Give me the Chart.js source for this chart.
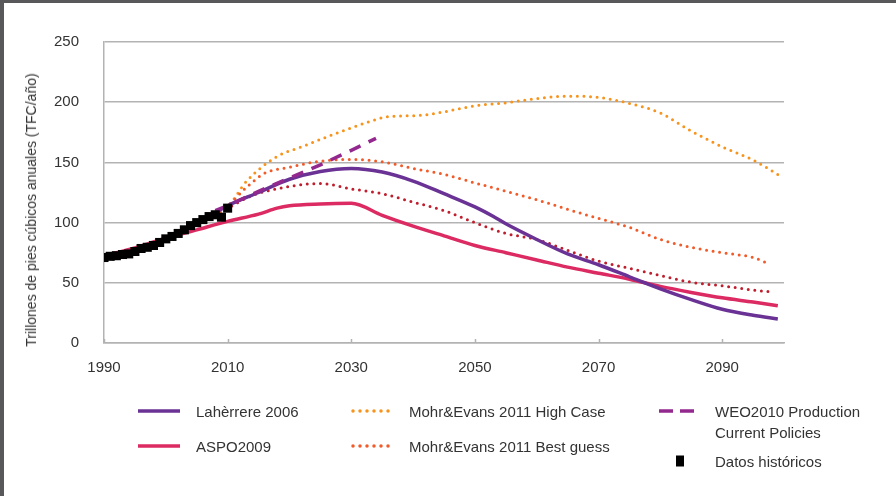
<!DOCTYPE html>
<html lang="es">
<head>
<meta charset="utf-8">
<title>Producción mundial de gas natural</title>
<script src="https://cdn.jsdelivr.net/npm/chart.js@4.4.1/dist/chart.umd.min.js"></script>
<style>
  html, body { margin: 0; padding: 0; background: #fff; }
  #wrap { position: relative; width: 896px; height: 496px; overflow: hidden;
          font-family: "Liberation Sans", Arial, sans-serif; color: #333; }
  #chart { position: absolute; left: 0; top: 0; }
  .frame-top { position: absolute; left: 0; top: 0; width: 896px; height: 3px; background: #58585a; }
  .frame-left { position: absolute; left: 0; top: 0; width: 4px; height: 496px; background: #58585a; }
  #ytitle { position: absolute; left: 31px; top: 210px; white-space: nowrap; font-size: 14px;
            transform: translate(-50%, -50%) rotate(-90deg); }
  .leg { position: absolute; white-space: nowrap; font-size: 15px; line-height: 20px;
         transform: translateY(-50%); }
</style>
</head>
<body>
<div id="wrap">
  <canvas id="chart" width="896" height="496"></canvas>
  <div id="ytitle">Trillones de pies cúbicos anuales (TFC/año)</div>
  <div class="frame-top"></div>
  <div class="frame-left"></div>
</div>
<script>
// Axis ticks
const xTickYears = [1990, 2010, 2030, 2050, 2070, 2090];
const yTickValues = [0, 50, 100, 150, 200, 250];

// Historical production (TFC / year)
const histYears = [1990, 1991, 1992, 1993, 1994, 1995, 1996, 1997, 1998, 1999, 2000,
                   2001, 2002, 2003, 2004, 2005, 2006, 2007, 2008, 2009, 2010];
const histValues = [71, 72, 72.5, 73.5, 74, 76, 78.5, 79.5, 81, 83.5, 86.5,
                    88.5, 91, 94, 97.5, 100, 102.5, 105, 106.5, 104.5, 112];

// Laherrère 2006
const lahYears = [1990, 1995, 2000, 2005, 2010, 2015, 2020, 2025, 2030, 2035, 2040, 2045,
                  2050, 2053, 2055, 2060, 2065, 2070, 2075, 2080, 2085, 2090, 2095, 2099];
const lahValues = [71, 76, 86, 99, 114, 125, 136, 142.5, 145, 142, 134.5, 124,
                   113, 105, 99, 86, 74, 65, 55, 45, 36, 28, 23, 20];

// ASPO 2009
const aspoYears = [1990, 1995, 2000, 2005, 2010, 2015, 2018, 2020, 2025, 2030, 2035, 2040,
                   2045, 2050, 2055, 2060, 2065, 2070, 2075, 2080, 2085, 2090, 2095, 2099];
const aspoValues = [72.5, 79, 87, 94, 101, 107, 112, 114, 115.5, 116, 106, 97,
                    89, 81, 75, 69, 63, 58, 53, 47, 42, 37.5, 34, 31];

// Mohr & Evans 2011 High Case
const highYears = [1990, 1995, 2000, 2005, 2010, 2013, 2018, 2022, 2027, 2033, 2036, 2041,
                   2045, 2050, 2055, 2060, 2065, 2070, 2075, 2080, 2085, 2090, 2095, 2099];
const highValues = [71, 77, 86, 98, 113, 134, 155, 163, 173, 184, 188, 189,
                    192, 197, 199.5, 203, 205, 204, 199, 191, 176, 163, 152, 140];

// Mohr & Evans 2011 Best guess
const bestYears = [1990, 1995, 2000, 2005, 2010, 2013, 2016, 2020, 2025, 2030, 2035, 2040,
                   2045, 2050, 2055, 2060, 2065, 2070, 2075, 2080, 2085, 2090, 2095, 2097];
const bestValues = [71, 77, 86, 98, 114, 129, 141, 146, 151, 152.5, 150.5, 145,
                    140, 133, 126, 119, 111, 103.5, 96, 86, 79.5, 75, 71, 67];

// Mohr & Evans 2011 Low Case
const lowYears = [1990, 1995, 2000, 2005, 2010, 2014, 2020, 2025, 2030, 2035, 2040, 2045,
                  2050, 2055, 2060, 2065, 2070, 2075, 2080, 2085, 2090, 2095, 2098];
const lowValues = [71, 77, 86, 98, 112, 122.5, 130, 132.5, 128, 124, 117, 110,
                   100, 91, 86, 77, 68, 62, 56, 50.5, 47.5, 44, 42.5];

// WEO2010, Current Policies scenario
const weoYears = [2008, 2010, 2015, 2020, 2025, 2030, 2034];
const weoValues = [110, 114, 126, 137, 148, 160, 170];

const toPoints = (xs, ys) => xs.map((x, i) => ({ x: x, y: ys[i] }));

const GRID = '#b3b3b3';
const TEXT = '#333333';
const FONT = '"Liberation Sans", Arial, sans-serif';

const solid = (label, xs, ys, color, order) => ({
  label, data: toPoints(xs, ys), borderColor: color, backgroundColor: color,
  borderWidth: 3.5, pointRadius: 0, cubicInterpolationMode: 'monotone', order
});
const dotted = (label, xs, ys, color, order) => ({
  label, data: toPoints(xs, ys), borderColor: color, backgroundColor: color,
  borderWidth: 3, borderDash: [0, 6.6], borderCapStyle: 'round',
  pointRadius: 0, cubicInterpolationMode: 'monotone', order
});

const datasets = [
  { label: 'Datos históricos', data: toPoints(histYears, histValues), showLine: false,
    pointStyle: 'rect', pointRadius: 6.4, pointBorderWidth: 0,
    backgroundColor: '#000', borderColor: '#000', order: 0 },
  solid('Lahèrrere 2006', lahYears, lahValues, '#6a3294', 3),
  solid('ASPO2009', aspoYears, aspoValues, '#dc2a62', 4),
  dotted('Mohr&Evans 2011 High Case', highYears, highValues, '#f7941d', 6),
  dotted('Mohr&Evans 2011 Best guess', bestYears, bestValues, '#f15a29', 5),
  dotted('Mohr&Evans 2011 Low Case', lowYears, lowValues, '#be1e2d', 7),
  { label: ['WEO2010 Production', 'Current Policies'], data: toPoints(weoYears, weoValues),
    borderColor: '#93288e', backgroundColor: '#93288e', borderWidth: 3.5,
    borderDash: [12, 9], pointRadius: 0, order: 1 }
];

// Legend: which dataset each entry shows, and where it sits below the plot
const legendLayout = [
  { ds: 1, x1: 138, x2: 180, y: 411, tx: 196 },
  { ds: 2, x1: 138, x2: 180, y: 446, tx: 196 },
  { ds: 3, x1: 353, x2: 389, y: 411, tx: 409, dash: [0, 7] },
  { ds: 4, x1: 353, x2: 389, y: 446, tx: 409, dash: [0, 7] },
  { ds: 6, x1: 659, x2: 694, y: 411, tx: 715, dash: [14, 7], lineGap: 21 },
  { ds: 0, x1: 676, x2: 684, y: 461, tx: 715, square: true }
];

const legendSamples = {
  id: 'legendSamples',
  afterDraw(chart) {
    const ctx = chart.ctx;
    legendLayout.forEach(item => {
      const ds = chart.data.datasets[item.ds];
      ctx.save();
      if (item.square) {
        ctx.fillStyle = ds.backgroundColor;
        ctx.fillRect(item.x1, item.y - 5.5, item.x2 - item.x1, 11);
      } else {
        ctx.strokeStyle = ds.borderColor;
        ctx.lineWidth = 3.5;
        ctx.lineCap = ds.borderCapStyle || 'butt';
        ctx.setLineDash(item.dash || []);
        ctx.beginPath();
        ctx.moveTo(item.x1, item.y);
        ctx.lineTo(item.x2, item.y);
        ctx.stroke();
      }
      ctx.restore();
    });
  }
};

// Short inner tick marks on the year axis
const yearTicks = {
  id: 'yearTicks',
  afterDraw(chart) {
    const sx = chart.scales.x, ctx = chart.ctx, b = chart.chartArea.bottom;
    ctx.save();
    ctx.strokeStyle = GRID;
    ctx.lineWidth = 1.5;
    xTickYears.forEach(v => {
      const px = Math.round(sx.getPixelForValue(v)) + 0.5;
      ctx.beginPath();
      ctx.moveTo(px, b - 4);
      ctx.lineTo(px, b);
      ctx.stroke();
    });
    ctx.restore();
  }
};

new Chart(document.getElementById('chart'), {
  type: 'line',
  data: { datasets },
  options: {
    responsive: false,
    animation: false,
    devicePixelRatio: 1,
    layout: { padding: { left: 0, right: 112, top: 42, bottom: 0 } },
    plugins: { legend: { display: false }, tooltip: { enabled: false } },
    scales: {
      x: {
        type: 'linear', min: 1990, max: 2100,
        afterBuildTicks: s => { s.ticks = xTickYears.map(v => ({ value: v })); },
        afterFit: s => { s.height = 153; },
        grid: { display: false, drawTicks: false },
        border: { display: true, color: GRID, width: 1.5 },
        ticks: { color: TEXT, font: { family: FONT, size: 15 }, padding: 16, maxRotation: 0,
                 callback: v => String(v) }
      },
      y: {
        min: 0, max: 250,
        afterBuildTicks: s => { s.ticks = yTickValues.map(v => ({ value: v })); },
        afterFit: s => { s.width = 104; },
        grid: { color: GRID, lineWidth: 1.5, drawTicks: false },
        border: { display: true, color: GRID, width: 1.5 },
        ticks: { color: TEXT, font: { family: FONT, size: 15 }, padding: 25 }
      }
    }
  },
  plugins: [legendSamples, yearTicks]
});

// Legend text
const wrap = document.getElementById('wrap');
legendLayout.forEach(item => {
  const label = datasets[item.ds].label;
  const lines = Array.isArray(label) ? label : [label];
  lines.forEach((t, i) => {
    const el = document.createElement('div');
    el.className = 'leg';
    el.textContent = t;
    el.style.left = item.tx + 'px';
    el.style.top = (item.y + 1 + i * (item.lineGap || 0)) + 'px';
    wrap.appendChild(el);
  });
});
</script>
</body>
</html>
